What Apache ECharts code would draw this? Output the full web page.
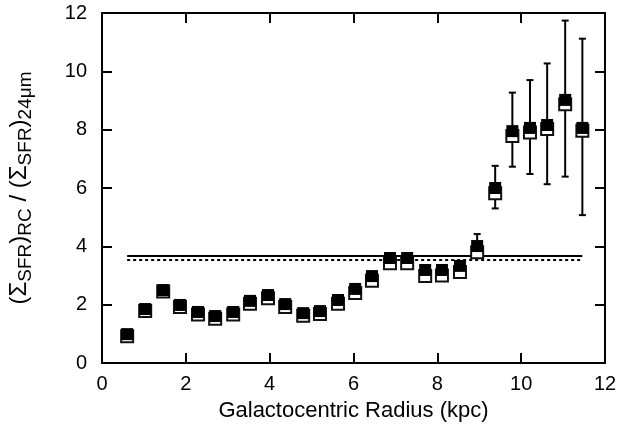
<!DOCTYPE html>
<html>
<head>
<meta charset="utf-8">
<script src="https://cdn.jsdelivr.net/npm/echarts@6/dist/echarts.min.js"></script>
<style>
  html, body { margin: 0; padding: 0; background: #fff; }
  #main { width: 624px; height: 434px; }
</style>
</head>
<body>
<div id="main"></div>
<script>
// galactocentric radius of each ring (kpc)
var radius = [0.60, 1.03, 1.46, 1.86, 2.29, 2.70, 3.13, 3.53, 3.96, 4.37, 4.80, 5.20, 5.63, 6.04,
  6.44, 6.87, 7.28, 7.71, 8.11, 8.54, 8.95, 9.38, 9.79, 10.21, 10.62, 11.05, 11.46];
// filled squares
var ratioFilled = [0.99, 1.85, 2.50, 1.99, 1.75, 1.61, 1.75, 2.13, 2.33, 2.02, 1.71, 1.78, 2.16, 2.54,
  2.98, 3.60, 3.60, 3.19, 3.19, 3.33, 4.01, 6.00, 7.95, 8.06, 8.16, 9.02, 8.06];
// open squares
var ratioOpen = [0.92, 1.78, 2.45, 1.92, 1.66, 1.52, 1.66, 2.03, 2.22, 1.92, 1.62, 1.68, 2.03, 2.40,
  2.82, 3.42, 3.42, 2.98, 3.00, 3.12, 3.80, 5.82, 7.78, 7.90, 8.02, 8.87, 7.96];
// error bars (only the ones wider than the marker)
var errLow = [null, null, null, null, null, null, null, null, null, null, null, null, null, null,
  null, null, null, null, null, null, 3.65, 5.30, 6.73, 6.48, 6.13, 6.39, 5.07];
var errHigh = [null, null, null, null, null, null, null, null, null, null, null, null, null, null,
  null, null, null, null, null, null, 4.42, 6.76, 9.27, 9.70, 10.27, 11.74, 11.12];
// mean ratios
var meanSolid = 3.67;
var meanDashed = 3.53;
var xTicks = [0, 2, 4, 6, 8, 10, 12];
var yTicks = [0, 2, 4, 6, 8, 10, 12];

var chart = echarts.init(document.getElementById("main"));

var font = "Liberation Sans, Arial, sans-serif";
var axisBase = {
  min: 0,
  max: 12,
  interval: 2,
  axisLine: { show: true, onZero: false, lineStyle: { color: "#000", width: 2 } },
  axisTick: { show: true, inside: true, length: 10, lineStyle: { color: "#000", width: 2 } },
  splitLine: { show: false }
};

var filledPts = radius.map(function (r, i) { return [r, ratioFilled[i]]; });
var openPts = radius.map(function (r, i) { return [r, ratioOpen[i]]; });
var errPts = [];
radius.forEach(function (r, i) {
  if (errLow[i] != null) errPts.push([r, errLow[i], errHigh[i]]);
});
var xFirst = radius[0];
var xLast = radius[radius.length - 1];

var option = {
  animation: false,
  grid: { left: 102, top: 13, right: 19, bottom: 71, outerBoundsMode: "none", containLabel: false },
  xAxis: [
    Object.assign({}, axisBase, {
      type: "value",
      position: "bottom",
      name: "Galactocentric Radius (kpc)",
      nameLocation: "middle",
      nameGap: 37,
      nameTextStyle: { fontFamily: font, fontSize: 22, color: "#000" },
      axisLabel: {
        margin: 11, fontFamily: font, fontSize: 20, color: "#000",
        formatter: function (v) { return xTicks.indexOf(v) >= 0 ? v : ""; }
      }
    }),
    Object.assign({}, axisBase, { type: "value", position: "top", axisLabel: { show: false } })
  ],
  yAxis: [
    Object.assign({}, axisBase, {
      type: "value",
      position: "left",
      name: "(Σ{s|SFR}){s|RC} / (Σ{s|SFR}){s|24μm}",
      nameLocation: "middle",
      nameGap: 67,
      nameTextStyle: {
        fontFamily: font, fontSize: 24, color: "#000",
        rich: {
          s: { fontFamily: font, fontSize: 19, color: "#000", verticalAlign: "bottom", padding: [13, 0, 0, 0] }
        }
      },
      axisLabel: {
        margin: 15, fontFamily: font, fontSize: 20, color: "#000",
        formatter: function (v) { return yTicks.indexOf(v) >= 0 ? v : ""; }
      }
    }),
    Object.assign({}, axisBase, { type: "value", position: "right", axisLabel: { show: false } })
  ],
  series: [
    {
      type: "line",
      data: [[xFirst, meanSolid], [xLast, meanSolid]],
      symbol: "none",
      lineStyle: { color: "#000", width: 2 },
      z: 1
    },
    {
      type: "line",
      data: [[xFirst, meanDashed], [xLast, meanDashed]],
      symbol: "none",
      lineStyle: { color: "#000", width: 2, type: [3, 3] },
      z: 1
    },
    {
      type: "custom",
      data: errPts,
      z: 2,
      renderItem: function (params, api) {
        var top = api.coord([api.value(0), api.value(2)]);
        var bot = api.coord([api.value(0), api.value(1)]);
        var cap = 3.5;
        var st = { stroke: "#000", lineWidth: 2 };
        return {
          type: "group",
          children: [
            { type: "line", shape: { x1: top[0], y1: top[1], x2: bot[0], y2: bot[1] }, style: st },
            { type: "line", shape: { x1: top[0] - cap, y1: top[1], x2: top[0] + cap, y2: top[1] }, style: st },
            { type: "line", shape: { x1: bot[0] - cap, y1: bot[1], x2: bot[0] + cap, y2: bot[1] }, style: st }
          ]
        };
      }
    },
    {
      type: "scatter",
      data: openPts,
      symbol: "rect",
      symbolSize: 12,
      itemStyle: { color: "#fff", borderColor: "#111", borderWidth: 2, opacity: 1 },
      z: 3
    },
    {
      type: "scatter",
      data: filledPts,
      symbol: "rect",
      symbolSize: 12,
      itemStyle: { color: "#000", opacity: 1 },
      z: 4
    }
  ]
};

chart.setOption(option);
</script>
</body>
</html>
